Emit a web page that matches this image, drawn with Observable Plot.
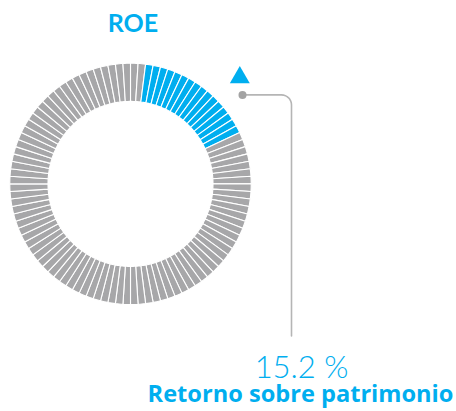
<!DOCTYPE html>
<html>
<head>
<meta charset="utf-8">
<script src="https://cdn.jsdelivr.net/npm/d3@7"></script>
<script src="https://cdn.jsdelivr.net/npm/@observablehq/plot@0.6"></script>
<style>
  html, body { margin: 0; padding: 0; background: #fff; }
  #chart svg { display: block; }
</style>
</head>
<body>
<div id="chart"></div>
<script>
// ---- data ----
const title = "ROE";
const valueLabel = "15.2 %";
const subtitle = "Retorno sobre patrimonio";
const segmentCount = 100;          // segments in the ring
const highlightStart = 2;          // first highlighted segment (from 12 o'clock, clockwise)
const highlightCount = 16;         // highlighted segments
const ringRadii = [82.5, 120.7];   // inner, outer
const colors = {blue: "#00aeef", gray: "#a7a7a9", connector: "#b5b5b5", dot: "#a3a3a3"};

// annotation anchor points (in chart units, centre of ring = 0,0, y down)
const markerPoint = [{x: 109.3, y: -106.5}];
const dotPoint = [{x: 112, y: -89}];
const connectorCorner = {x: 161, y: -89, r: 10};
const connectorEnd = {x: 161, y: 152};
const texts = [
  {x: 2.5, y: -151.5, text: title, size: 25, weight: 700, font: "Lato, sans-serif"},
  {x: 171, y: 194, text: valueLabel, size: 31, weight: 300, font: "Lato, sans-serif"},
  {x: 170, y: 218, text: subtitle, size: 23.6, weight: 700, font: "'Open Sans', sans-serif"}
];

// ---- build segments ----
const segs = [];
const step = 2 * Math.PI / segmentCount;
for (let i = 0; i < segmentCount; i++) {
  const a0 = i * step, a1 = (i + 1) * step;
  const hl = i >= highlightStart && i < highlightStart + highlightCount;
  const [r0, r1] = ringRadii;
  const pts = [];
  const n = 4;
  for (let k = 0; k <= n; k++) { const a = a0 + (a1 - a0) * k / n; pts.push([r1 * Math.sin(a), -r1 * Math.cos(a)]); }
  for (let k = n; k >= 0; k--) { const a = a0 + (a1 - a0) * k / n; pts.push([r0 * Math.sin(a), -r0 * Math.cos(a)]); }
  pts.push(pts[0]);
  for (const [x, y] of pts) segs.push({seg: i, x, y, color: hl ? colors.blue : colors.gray});
}

// connector path with a rounded corner
const conn = [{x: dotPoint[0].x, y: dotPoint[0].y}];
const c = connectorCorner;
for (let k = 0; k <= 8; k++) {
  const a = -Math.PI / 2 + (Math.PI / 2) * k / 8;
  conn.push({x: c.x - c.r + c.r * Math.cos(a), y: c.y + c.r + c.r * Math.sin(a)});
}
conn.push({x: connectorEnd.x, y: connectorEnd.y});

const chart = Plot.plot({
  width: 456,
  height: 411,
  margin: 0,
  x: {domain: [-130, 326], range: [0, 456], axis: null},
  y: {domain: [-183.4, 227.6], range: [0, 411], axis: null},
  style: {background: "#fff"},
  marks: [
    Plot.line(segs, {x: "x", y: "y", z: "seg", fill: "color", stroke: "#fff", strokeWidth: 1.1, curve: "linear-closed"}),
    Plot.line(conn, {x: "x", y: "y", stroke: colors.connector, strokeWidth: 1.6}),
    Plot.dot(dotPoint, {x: "x", y: "y", r: 4, fill: colors.dot}),
    Plot.dot(markerPoint, {x: "x", y: "y", symbol: "triangle", r: 7.4, fill: colors.blue}),
    ...texts.map(t => Plot.text([t], {x: "x", y: "y", text: "text", fill: colors.blue, fontSize: t.size, fontWeight: t.weight, fontFamily: t.font, textAnchor: "middle", lineAnchor: "bottom"}))
  ]
});
document.getElementById("chart").append(chart);
</script>
</body>
</html>
